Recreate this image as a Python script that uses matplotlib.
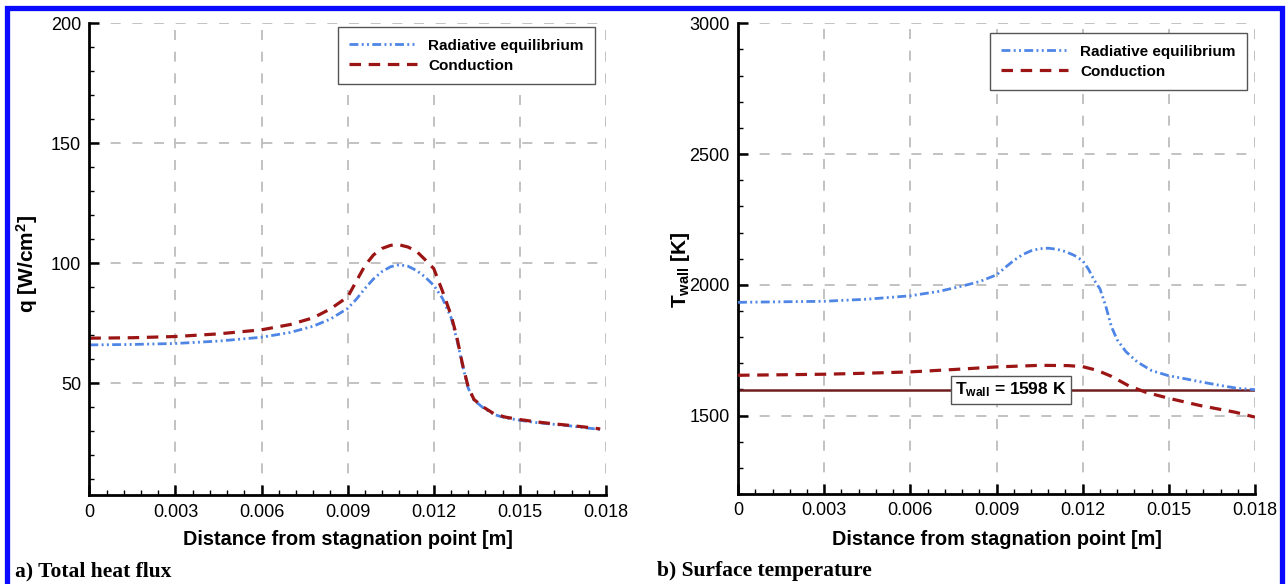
import matplotlib
matplotlib.use("Agg")
import matplotlib.pyplot as plt
from matplotlib.ticker import MultipleLocator, FixedLocator, FixedFormatter
from matplotlib.patches import Rectangle
from matplotlib.font_manager import FontProperties

plt.rcParams['font.family'] = ['Liberation Sans', 'DejaVu Sans']
plt.rcParams['mathtext.fontset'] = 'custom'
plt.rcParams['mathtext.rm'] = 'Liberation Sans'
plt.rcParams['mathtext.bf'] = 'Liberation Sans:bold'
plt.rcParams['mathtext.it'] = 'Liberation Sans:italic'

# ---------------- data ----------------
x_q = [0.0, 0.0015, 0.003, 0.0045, 0.006, 0.007, 0.0078, 0.0084, 0.009, 0.0093,
       0.0096, 0.0099, 0.0102, 0.0105, 0.0108, 0.0111, 0.0114, 0.0117, 0.012,
       0.0123, 0.0126, 0.0128, 0.0130, 0.0132, 0.0134, 0.0137, 0.0141, 0.0145,
       0.015, 0.0156, 0.0162, 0.0168, 0.0174, 0.0178]
q_rad = [66.0, 66.2, 66.6, 67.6, 69.2, 71.2, 73.8, 76.8, 81.2, 85.0,
         89.5, 93.5, 96.6, 98.6, 99.4, 98.8, 97.0, 94.3, 90.8,
         85.5, 77.5, 68.5, 57.5, 48.0, 43.0, 40.0, 37.0, 35.6,
         34.6, 33.6, 32.9, 32.2, 31.3, 30.8]
q_cond = [68.8, 69.0, 69.5, 70.6, 72.3, 74.5, 77.3, 81.0, 86.0, 92.5,
          99.0, 103.5, 106.2, 107.5, 107.7, 106.8, 105.0, 101.5, 97.8,
          88.5, 78.5, 69.5, 58.0, 48.5, 43.3, 40.3, 37.3, 35.9,
          34.9, 33.9, 33.1, 32.4, 31.6, 31.0]

x_trad = [0.0, 0.0015, 0.003, 0.0045, 0.006, 0.007, 0.0078, 0.0084, 0.009, 0.0093,
          0.0096, 0.0099, 0.0102, 0.0105, 0.0108, 0.0111, 0.0114, 0.0117, 0.012,
          0.0122, 0.0124, 0.0126, 0.0128, 0.013, 0.0132, 0.0135, 0.0139, 0.0144,
          0.015, 0.0156, 0.0162, 0.0168, 0.0174, 0.018]
t_rad = [1933, 1935, 1937, 1945, 1958, 1975, 1995, 2012, 2038, 2066,
         2093, 2115, 2130, 2138, 2140, 2136, 2127, 2113, 2092,
         2060, 2018, 1985, 1920, 1840, 1790, 1745, 1705, 1672,
         1652, 1640, 1627, 1615, 1604, 1599]

x_tcond = [0.0, 0.0015, 0.003, 0.0045, 0.006, 0.0075, 0.009, 0.0105, 0.0115, 0.012,
           0.0125, 0.013, 0.0136, 0.0142, 0.015, 0.0161, 0.0173, 0.018]
t_cond = [1654, 1656, 1658, 1662, 1667, 1676, 1686, 1692, 1691, 1687,
          1673, 1650, 1614, 1589, 1566, 1538, 1513, 1494]

t_wall_const = 1598
twall_x = [0.0, 0.018]

x_ticks = [0.0, 0.003, 0.006, 0.009, 0.012, 0.015, 0.018]
x_tick_labels = ['0', '0.003', '0.006', '0.009', '0.012', '0.015', '0.018']
q_ticks = [50, 100, 150, 200]
q_tick_labels = ['50', '100', '150', '200']
t_ticks = [1500, 2000, 2500, 3000]
t_tick_labels = ['1500', '2000', '2500', '3000']

series_labels = ['Radiative equilibrium', 'Conduction']

# ---------------- style ----------------
BLUE = '#4f86e6'
RED = '#9c1515'
WALL = '#6e1e1e'
dashdotdot = (0, (3.2, 1.2, 0.7, 1.2, 0.7, 1.2))
dashed = (0, (3.6, 2.4))

fig = plt.figure(figsize=(12.86, 5.84), dpi=100)
ax1 = fig.add_axes([0.0695, 0.1517, 0.4017, 0.8084])
ax2 = fig.add_axes([0.5739, 0.1541, 0.4020, 0.8060])

leg_font = FontProperties(family='Liberation Sans', weight='bold', size=11)
LABEL_SIZE = 14.3


def style(ax, yt, ytl, yminor):
    for s in ['top', 'right']:
        ax.spines[s].set_visible(False)
    for s in ['left', 'bottom']:
        ax.spines[s].set_linewidth(2.0)
    ax.xaxis.set_major_locator(FixedLocator(x_ticks))
    ax.xaxis.set_major_formatter(FixedFormatter(x_tick_labels))
    ax.xaxis.set_minor_locator(MultipleLocator(0.0006))
    ax.yaxis.set_major_locator(FixedLocator(yt))
    ax.yaxis.set_major_formatter(FixedFormatter(ytl))
    ax.yaxis.set_minor_locator(MultipleLocator(yminor))
    ax.tick_params(which='major', direction='in', length=7, width=1.8,
                   labelsize=13, pad=6, colors='black')
    ax.tick_params(which='minor', direction='in', length=3.5, width=1.0)
    ax.grid(True, which='major', color='#b8b8b8', linestyle=(0, (6, 7)),
            linewidth=1.2)
    ax.set_axisbelow(True)
    ax.set_xlim(0, 0.018)
    ax.set_xlabel('Distance from stagnation point [m]', fontsize=LABEL_SIZE,
                  fontweight='bold')


# ---- left panel ----
style(ax1, q_ticks, q_tick_labels, 10)
ax1.set_ylim(3.3, 200)
ax1.plot(x_q, q_rad, color=BLUE, lw=2.0, linestyle=dashdotdot,
         label=series_labels[0])
ax1.plot(x_q, q_cond, color=RED, lw=2.3, linestyle=dashed,
         label=series_labels[1])
ax1.set_ylabel(r'q [W/cm$^{\mathbf{2}}$]', fontsize=LABEL_SIZE + 0.7,
               fontweight='bold')
ax1.yaxis.set_label_coords(-0.0956, 0.49)
ax1.xaxis.set_label_coords(0.5, -0.073)
leg1 = ax1.legend(loc='upper left', bbox_to_anchor=(0.481, 0.992),
                  frameon=True, fancybox=False, edgecolor='#555555',
                  framealpha=1, prop=leg_font, handlelength=4.4,
                  borderpad=0.75, labelspacing=0.4, handletextpad=0.75,
                  borderaxespad=0)
leg1.get_frame().set_linewidth(1.0)

# ---- right panel ----
style(ax2, t_ticks, t_tick_labels, 100)
ax2.set_ylim(1200, 3000)
ax2.plot(twall_x, [t_wall_const, t_wall_const], color=WALL, lw=1.8,
         solid_capstyle='butt', zorder=2)
ax2.plot(x_trad, t_rad, color=BLUE, lw=2.0, linestyle=dashdotdot,
         label=series_labels[0], zorder=3)
ax2.plot(x_tcond, t_cond, color=RED, lw=2.3, linestyle=dashed,
         label=series_labels[1], zorder=3)
ax2.text(0.0095, t_wall_const, r'T$_{\mathbf{wall}}$ = 1598 K', ha='center',
         va='center', fontsize=12.5, fontweight='bold', zorder=4,
         bbox=dict(boxstyle='square,pad=0.25', fc='white', ec='#555555',
                   lw=1.0))
ax2.set_ylabel(r'T$_{\mathbf{wall}}$ [K]', fontsize=LABEL_SIZE + 0.7,
               fontweight='bold')
ax2.yaxis.set_label_coords(-0.089, 0.476)
ax2.xaxis.set_label_coords(0.5, -0.0765)
leg2 = ax2.legend(loc='upper left', bbox_to_anchor=(0.487, 0.979),
                  frameon=True, fancybox=False, edgecolor='#555555',
                  framealpha=1, prop=leg_font, handlelength=4.4,
                  borderpad=0.75, labelspacing=0.4, handletextpad=0.75,
                  borderaxespad=0)
leg2.get_frame().set_linewidth(1.0)

# ---- captions ----
cap_font = dict(family=['Liberation Serif', 'DejaVu Serif'], fontweight='bold',
                fontsize=15.5, va='center', ha='left')
fig.text(15 / 1286, 1 - 571 / 584, 'a) Total heat flux', **cap_font)
fig.text(657 / 1286, 1 - 571 / 584, 'b) Surface temperature', **cap_font)

# ---- blue frame ----
fig.add_artist(Rectangle((6.5 / 1286, -0.1), (1281.5 - 6.5) / 1286,
                         1.1 - 8.5 / 584, transform=fig.transFigure,
                         fill=False, edgecolor='#0a0aff', lw=3.8))

fig.savefig('out.png', dpi=100)
